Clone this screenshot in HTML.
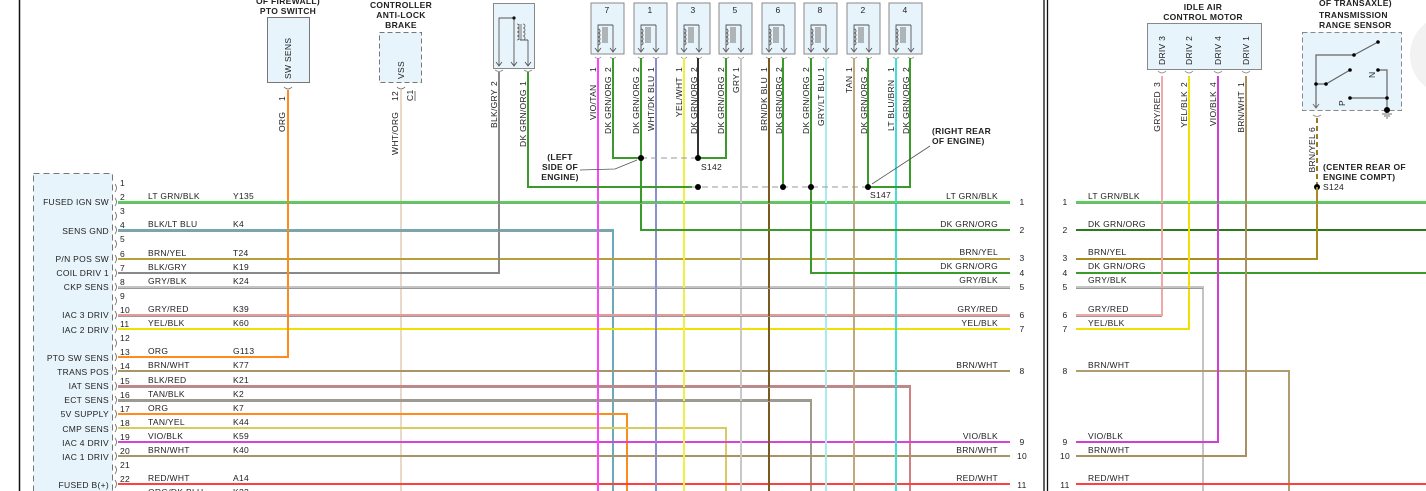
<!DOCTYPE html>
<html><head><meta charset="utf-8"><style>
html,body{margin:0;padding:0;background:#fff;}
svg{display:block;}
text{font-family:"Liberation Sans",sans-serif;font-size:8.5px;fill:#222;letter-spacing:0.3px;}
.w{fill:none;stroke-width:2;}
.s{fill:none;stroke-width:0.9;}
</style></head><body>
<svg width="1426" height="491" viewBox="0 0 1426 491" xmlns="http://www.w3.org/2000/svg">
<defs>
<g id="cn">
<rect x="0" y="0" width="33" height="51" fill="#e8f4fb" stroke="#888" stroke-width="1"/>
<path d="M7,48 V22 H17 M22,22 V48 M17,22 H22" fill="none" stroke="#555" stroke-width="0.9"/>
<path d="M7,26 a2,2 0 0 1 0,4 a2,2 0 0 1 0,4 a2,2 0 0 1 0,4 a2,2 0 0 1 0,4" fill="none" stroke="#555" stroke-width="0.9"/>
<path d="M12,24 V40 M14,24 V40 M16,24 V40" stroke="#555" stroke-width="0.8"/>
<path d="M4,45 L7,49 L10,45 M19,45 L22,49 L25,45" fill="none" stroke="#555" stroke-width="0.9"/>
<path d="M4,54 Q7,57 10,54 M19,54 Q22,57 25,54" fill="none" stroke="#888" stroke-width="0.8"/>
</g>
</defs>

<line x1="19.5" y1="0" x2="19.5" y2="491" stroke="#111" stroke-width="1.5"/>
<line x1="1044" y1="0" x2="1044" y2="491" stroke="#111" stroke-width="1.3"/>
<line x1="1047.5" y1="0" x2="1047.5" y2="491" stroke="#111" stroke-width="1.3"/>
<circle cx="1450" cy="55" r="40" fill="#f2f2f2"/>

<rect x="33.5" y="173.5" width="79" height="330" fill="#e8f4fb" stroke="#777" stroke-dasharray="6,4"/>
<g text-anchor="end">
<text x="109" y="205">FUSED IGN SW</text>
<text x="109" y="234">SENS GND</text>
<text x="109" y="262">P/N POS SW</text>
<text x="109" y="276">COIL DRIV 1</text>
<text x="109" y="290">CKP SENS</text>
<text x="109" y="318">IAC 3 DRIV</text>
<text x="109" y="333">IAC 2 DRIV</text>
<text x="109" y="361">PTO SW SENS</text>
<text x="109" y="375">TRANS POS</text>
<text x="109" y="389">IAT SENS</text>
<text x="109" y="403">ECT SENS</text>
<text x="109" y="417">5V SUPPLY</text>
<text x="109" y="432">CMP SENS</text>
<text x="109" y="446">IAC 4 DRIV</text>
<text x="109" y="460">IAC 1 DRIV</text>
<text x="109" y="488">FUSED B(+)</text>
</g>
<g fill="none" stroke="#666" stroke-width="0.8">
<path d="M115,184 q3,4 0,8 M115,198 q3,4 0,8 M115,212 q3,4 0,8 M115,226 q3,4 0,8 M115,240 q3,4 0,8 M115,255 q3,4 0,8 M115,269 q3,4 0,8 M115,283 q3,4 0,8 M115,297 q3,4 0,8 M115,311 q3,4 0,8 M115,325 q3,4 0,8 M115,339 q3,4 0,8 M115,353 q3,4 0,8 M115,367 q3,4 0,8 M115,382 q3,4 0,8 M115,396 q3,4 0,8 M115,410 q3,4 0,8 M115,424 q3,4 0,8 M115,438 q3,4 0,8 M115,452 q3,4 0,8 M115,466 q3,4 0,8 M115,480 q3,4 0,8"/>
</g>
<g font-size="8">
<text x="120" y="186">1</text><text x="120" y="200">2</text><text x="120" y="214">3</text><text x="120" y="228">4</text><text x="120" y="242">5</text><text x="120" y="257">6</text><text x="120" y="271">7</text><text x="120" y="285">8</text><text x="120" y="299">9</text><text x="120" y="313">10</text><text x="120" y="327">11</text><text x="120" y="341">12</text><text x="120" y="355">13</text><text x="120" y="369">14</text><text x="120" y="384">15</text><text x="120" y="398">16</text><text x="120" y="412">17</text><text x="120" y="426">18</text><text x="120" y="440">19</text><text x="120" y="454">20</text><text x="120" y="468">21</text><text x="120" y="482">22</text>
</g>
<g>
<text x="148" y="199">LT GRN/BLK</text><text x="233" y="199">Y135</text>
<text x="148" y="227">BLK/LT BLU</text><text x="233" y="227">K4</text>
<text x="148" y="256">BRN/YEL</text><text x="233" y="256">T24</text>
<text x="148" y="270">BLK/GRY</text><text x="233" y="270">K19</text>
<text x="148" y="284">GRY/BLK</text><text x="233" y="284">K24</text>
<text x="148" y="312">GRY/RED</text><text x="233" y="312">K39</text>
<text x="148" y="326">YEL/BLK</text><text x="233" y="326">K60</text>
<text x="148" y="354">ORG</text><text x="233" y="354">G113</text>
<text x="148" y="368">BRN/WHT</text><text x="233" y="368">K77</text>
<text x="148" y="383">BLK/RED</text><text x="233" y="383">K21</text>
<text x="148" y="397">TAN/BLK</text><text x="233" y="397">K2</text>
<text x="148" y="411">ORG</text><text x="233" y="411">K7</text>
<text x="148" y="425">TAN/YEL</text><text x="233" y="425">K44</text>
<text x="148" y="439">VIO/BLK</text><text x="233" y="439">K59</text>
<text x="148" y="453">BRN/WHT</text><text x="233" y="453">K40</text>
<text x="148" y="481">RED/WHT</text><text x="233" y="481">A14</text>
<text x="148" y="495">ORG/DK BLU</text><text x="233" y="495">K22</text>
</g>

<text x="288" y="4" text-anchor="middle" font-weight="bold">OF FIREWALL)</text>
<text x="288" y="14" text-anchor="middle" font-weight="bold">PTO SWITCH</text>
<rect x="267.5" y="17.5" width="42" height="65" fill="#e8f4fb" stroke="#777"/>
<text transform="translate(291,79) rotate(-90)">SW SENS</text>
<path d="M284,87 Q288,91 292,87" fill="none" stroke="#666" stroke-width="0.8"/>
<text transform="translate(285,96) rotate(-90)" text-anchor="end">1</text>
<text transform="translate(285,132) rotate(-90)">ORG</text>

<text x="401" y="8" text-anchor="middle" font-weight="bold">CONTROLLER</text>
<text x="401" y="18" text-anchor="middle" font-weight="bold">ANTI-LOCK</text>
<text x="401" y="28" text-anchor="middle" font-weight="bold">BRAKE</text>
<rect x="379.5" y="32.5" width="42" height="50" fill="#e8f4fb" stroke="#777" stroke-dasharray="5,3"/>
<text transform="translate(404,79) rotate(-90)">VSS</text>
<path d="M397,87 Q401,91 405,87" fill="none" stroke="#666" stroke-width="0.8"/>
<text transform="translate(398,101) rotate(-90)">12</text>
<text transform="translate(413,101) rotate(-90)">C1</text>
<line x1="415" y1="91" x2="415" y2="101" stroke="#333" stroke-width="0.7"/>
<text transform="translate(398,155) rotate(-90)">WHT/ORG</text>

<rect x="493.5" y="3.5" width="41" height="65" fill="#e8f4fb" stroke="#888"/>
<path d="M499,66 V18 H514 M514,18 V66 M528,66 V40 M520,40 H528" fill="none" stroke="#555" stroke-width="0.9"/>
<circle cx="514" cy="18" r="1.6" fill="#111"/>
<path d="M517,24 a2,2 0 0 1 0,4 a2,2 0 0 1 0,4 a2,2 0 0 1 0,4 a2,2 0 0 1 0,4 M523,24 a2,2 0 0 1 0,4 a2,2 0 0 1 0,4 a2,2 0 0 1 0,4 a2,2 0 0 1 0,4 M519,24 V40 M521,24 V40" fill="none" stroke="#555" stroke-width="0.8"/>
<path d="M496,62 L499,66 L502,62 M511,62 L514,66 L517,62 M525,62 L528,66 L531,62" fill="none" stroke="#555" stroke-width="0.9"/>
<path d="M495,70 Q499,73 503,70 M524,70 Q528,73 532,70" fill="none" stroke="#888" stroke-width="0.8"/>
<text transform="translate(497,81) rotate(-90)" text-anchor="end">2</text>
<text transform="translate(497,128) rotate(-90)">BLK/GRY</text>
<text transform="translate(526,81) rotate(-90)" text-anchor="end">1</text>
<text transform="translate(526,147) rotate(-90)">DK GRN/ORG</text>

<use href="#cn" x="591" y="3"/><text x="607" y="13" text-anchor="middle">7</text>
<use href="#cn" x="634" y="3"/><text x="650" y="13" text-anchor="middle">1</text>
<use href="#cn" x="677" y="3"/><text x="693" y="13" text-anchor="middle">3</text>
<use href="#cn" x="719" y="3"/><text x="735" y="13" text-anchor="middle">5</text>
<use href="#cn" x="762" y="3"/><text x="778" y="13" text-anchor="middle">6</text>
<use href="#cn" x="804" y="3"/><text x="820" y="13" text-anchor="middle">8</text>
<use href="#cn" x="847" y="3"/><text x="863" y="13" text-anchor="middle">2</text>
<use href="#cn" x="889" y="3"/><text x="905" y="13" text-anchor="middle">4</text>
<g>
<text transform="translate(596,67) rotate(-90)" text-anchor="end">1</text><text transform="translate(596,120) rotate(-90)">VIO/TAN</text>
<text transform="translate(611,67) rotate(-90)" text-anchor="end">2</text><text transform="translate(611,134) rotate(-90)">DK GRN/ORG</text>
<text transform="translate(639,67) rotate(-90)" text-anchor="end">2</text><text transform="translate(639,134) rotate(-90)">DK GRN/ORG</text>
<text transform="translate(654,67) rotate(-90)" text-anchor="end">1</text><text transform="translate(654,131) rotate(-90)">WHT/DK BLU</text>
<text transform="translate(682,67) rotate(-90)" text-anchor="end">1</text><text transform="translate(682,117) rotate(-90)">YEL/WHT</text>
<text transform="translate(697,67) rotate(-90)" text-anchor="end">2</text><text transform="translate(697,134) rotate(-90)">DK GRN/ORG</text>
<text transform="translate(724,67) rotate(-90)" text-anchor="end">2</text><text transform="translate(724,134) rotate(-90)">DK GRN/ORG</text>
<text transform="translate(739,67) rotate(-90)" text-anchor="end">1</text><text transform="translate(739,93) rotate(-90)">GRY</text>
<text transform="translate(767,67) rotate(-90)" text-anchor="end">1</text><text transform="translate(767,131) rotate(-90)">BRN/DK BLU</text>
<text transform="translate(782,67) rotate(-90)" text-anchor="end">2</text><text transform="translate(782,134) rotate(-90)">DK GRN/ORG</text>
<text transform="translate(809,67) rotate(-90)" text-anchor="end">2</text><text transform="translate(809,134) rotate(-90)">DK GRN/ORG</text>
<text transform="translate(824,67) rotate(-90)" text-anchor="end">1</text><text transform="translate(824,126) rotate(-90)">GRY/LT BLU</text>
<text transform="translate(852,67) rotate(-90)" text-anchor="end">1</text><text transform="translate(852,93) rotate(-90)">TAN</text>
<text transform="translate(867,67) rotate(-90)" text-anchor="end">2</text><text transform="translate(867,134) rotate(-90)">DK GRN/ORG</text>
<text transform="translate(894,67) rotate(-90)" text-anchor="end">1</text><text transform="translate(894,131) rotate(-90)">LT BLU/BRN</text>
<text transform="translate(909,67) rotate(-90)" text-anchor="end">2</text><text transform="translate(909,134) rotate(-90)">DK GRN/ORG</text>
</g>

<g class="w">
<path d="M401,90 V491" stroke="#ead8c8"/>
<path d="M118,202 H1010" stroke="#44dd44"/>
<path d="M118,230 H613 V491" stroke="#6aaabb"/>
<path d="M118,259 H1010" stroke="#b8a038"/>
<path d="M118,273 H499 V72" stroke="#888"/>
<path d="M118,287 H1010" stroke="#c4c4c4"/>
<path d="M118,315 H1010" stroke="#e89a9a"/>
<path d="M118,329 H1010" stroke="#eee000"/>
<path d="M118,357 H288 V90" stroke="#ff8c1a"/>
<path d="M118,371 H1010" stroke="#a89468"/>
<path d="M118,386 H910 V491" stroke="#d08080"/>
<path d="M118,400 H811 V491" stroke="#a09a8c"/>
<path d="M118,414 H627 V491" stroke="#ff8c1a"/>
<path d="M118,428 H726 V491" stroke="#d8cc60"/>
<path d="M118,442 H1010" stroke="#d844d8"/>
<path d="M118,456 H1010" stroke="#a89468"/>
<path d="M118,484 H1010" stroke="#ff4040"/>
<path d="M598,58 V491" stroke="#ff44ff"/>
<path d="M656,58 V491" stroke="#8890d0"/>
<path d="M684,58 V491" stroke="#f0f040"/>
<path d="M741,58 V491" stroke="#c8c8c8"/>
<path d="M769,58 V491" stroke="#7a5a20"/>
<path d="M826,58 V491" stroke="#a8ecf0"/>
<path d="M854,58 V491" stroke="#c0a880"/>
<path d="M896,58 V491" stroke="#40e0d8"/>
<path d="M528,72 V187 H692" stroke="#3a9a2a"/>
<path d="M868,58 V187 H910 V58" stroke="#3a9a2a"/>
<path d="M811,58 V273 H1010" stroke="#3a9a2a"/>
<path d="M783,58 V187" stroke="#3a9a2a"/>
<path d="M641,58 V230 H1010" stroke="#3a9a2a"/>
<path d="M613,58 V158 H641" stroke="#3a9a2a"/>
<path d="M698,58 V158" stroke="#333"/>
<path d="M726,58 V158 H698" stroke="#3a9a2a"/>
</g>
<g class="s" stroke="#999">
<path d="M118,203.5 H1010 M118,231.5 H613 M118,288.5 H1010 M118,316.5 H1010 M118,387.5 H910 M118,401.5 H811"/>
</g>
<path d="M641,158 H698 M692,187 H868" stroke="#999" stroke-width="1" stroke-dasharray="6,4" fill="none"/>
<g fill="#000">
<circle cx="641" cy="158" r="3"/><circle cx="698" cy="158" r="3"/>
<circle cx="698" cy="187" r="3"/><circle cx="783" cy="187" r="3"/><circle cx="811" cy="187" r="3"/><circle cx="868" cy="187" r="3"/>
</g>
<text x="701" y="170">S142</text>
<text x="870" y="198">S147</text>
<g text-anchor="middle" font-weight="bold">
<text x="560" y="160">(LEFT</text><text x="560" y="170">SIDE OF</text><text x="560" y="180">ENGINE)</text>
</g>
<path d="M580,170 L615,169 L637,160" fill="none" stroke="#555" stroke-width="0.8"/>
<text x="932" y="134" font-weight="bold">(RIGHT REAR</text>
<text x="932" y="144" font-weight="bold">OF ENGINE)</text>
<path d="M930,146 L872,184" fill="none" stroke="#555" stroke-width="0.8"/>

<g text-anchor="end">
<text x="998" y="199">LT GRN/BLK</text>
<text x="998" y="227">DK GRN/ORG</text>
<text x="998" y="255">BRN/YEL</text>
<text x="998" y="269">DK GRN/ORG</text>
<text x="998" y="283">GRY/BLK</text>
<text x="998" y="312">GRY/RED</text>
<text x="998" y="326">YEL/BLK</text>
<text x="998" y="368">BRN/WHT</text>
<text x="998" y="439">VIO/BLK</text>
<text x="998" y="453">BRN/WHT</text>
<text x="998" y="481">RED/WHT</text>
</g>
<g text-anchor="middle" font-size="8">
<text x="1022" y="205">1</text><text x="1022" y="233">2</text><text x="1022" y="261">3</text><text x="1022" y="276">4</text><text x="1022" y="290">5</text><text x="1022" y="318">6</text><text x="1022" y="332">7</text><text x="1022" y="374">8</text><text x="1022" y="445">9</text><text x="1022" y="459">10</text><text x="1022" y="488">11</text>
</g>

<g text-anchor="middle" font-size="8">
<text x="1065" y="205">1</text><text x="1065" y="233">2</text><text x="1065" y="261">3</text><text x="1065" y="276">4</text><text x="1065" y="290">5</text><text x="1065" y="318">6</text><text x="1065" y="332">7</text><text x="1065" y="374">8</text><text x="1065" y="445">9</text><text x="1065" y="459">10</text><text x="1065" y="488">11</text>
</g>
<g>
<text x="1088" y="199">LT GRN/BLK</text>
<text x="1088" y="227">DK GRN/ORG</text>
<text x="1088" y="255">BRN/YEL</text>
<text x="1088" y="269">DK GRN/ORG</text>
<text x="1088" y="283">GRY/BLK</text>
<text x="1088" y="312">GRY/RED</text>
<text x="1088" y="326">YEL/BLK</text>
<text x="1088" y="368">BRN/WHT</text>
<text x="1088" y="439">VIO/BLK</text>
<text x="1088" y="453">BRN/WHT</text>
<text x="1088" y="481">RED/WHT</text>
</g>
<text x="1203" y="10" text-anchor="middle" font-weight="bold">IDLE AIR</text>
<text x="1203" y="20" text-anchor="middle" font-weight="bold">CONTROL MOTOR</text>
<rect x="1147.5" y="23.5" width="114" height="46" fill="#e8f4fb" stroke="#888"/>
<text transform="translate(1165,65) rotate(-90)">DRIV 3</text>
<text transform="translate(1192,65) rotate(-90)">DRIV 2</text>
<text transform="translate(1221,65) rotate(-90)">DRIV 4</text>
<text transform="translate(1249,65) rotate(-90)">DRIV 1</text>
<path d="M1158,71 Q1162,75 1166,71 M1185,71 Q1189,75 1193,71 M1214,71 Q1218,75 1222,71 M1242,71 Q1246,75 1250,71" fill="none" stroke="#888" stroke-width="0.8"/>
<text transform="translate(1160,82) rotate(-90)" text-anchor="end">3</text><text transform="translate(1160,91) rotate(-90)" text-anchor="end">GRY/RED</text>
<text transform="translate(1187,82) rotate(-90)" text-anchor="end">2</text><text transform="translate(1187,91) rotate(-90)" text-anchor="end">YEL/BLK</text>
<text transform="translate(1216,82) rotate(-90)" text-anchor="end">4</text><text transform="translate(1216,91) rotate(-90)" text-anchor="end">VIO/BLK</text>
<text transform="translate(1244,82) rotate(-90)" text-anchor="end">1</text><text transform="translate(1244,91) rotate(-90)" text-anchor="end">BRN/WHT</text>

<text x="1319" y="6" font-weight="bold">OF TRANSAXLE)</text>
<text x="1319" y="18" font-weight="bold">TRANSMISSION</text>
<text x="1319" y="28" font-weight="bold">RANGE SENSOR</text>
<rect x="1302.5" y="32.5" width="99" height="78" fill="#e8f4fb" stroke="#888" stroke-dasharray="5,3"/>
<g fill="none" stroke="#666" stroke-width="1.2">
<path d="M1316,108 V55 H1354 L1378,42"/>
<path d="M1316,84 H1326 L1350,70"/>
<path d="M1378,70 H1387 V98 H1350"/>
<path d="M1387,98 V110"/>
<path d="M1313,104 L1316,108 L1319,104" stroke-width="0.9"/>
</g>
<g fill="#000">
<circle cx="1354" cy="55" r="1.8"/><circle cx="1378" cy="42" r="1.8"/><circle cx="1316" cy="84" r="1.8"/><circle cx="1326" cy="84" r="1.8"/><circle cx="1350" cy="70" r="1.8"/><circle cx="1378" cy="70" r="1.8"/><circle cx="1387" cy="98" r="1.8"/><circle cx="1350" cy="98" r="1.8"/><circle cx="1387" cy="110" r="3"/>
</g>
<path d="M1382,114 H1392 M1384,116 H1390 M1386,118 H1388" stroke="#444" stroke-width="0.8"/>
<text transform="translate(1375,78) rotate(-90)">N</text>
<text transform="translate(1345,106) rotate(-90)">P</text>
<path d="M1313,115 Q1317,118 1321,115" fill="none" stroke="#888" stroke-width="0.8"/>
<text transform="translate(1315,127) rotate(-90)" text-anchor="end">6</text>
<text transform="translate(1315,134) rotate(-90)" text-anchor="end">BRN/YEL</text>
<path d="M1317,118 V184" stroke="#9a7a20" stroke-width="2" stroke-dasharray="5,3"/>
<circle cx="1317" cy="187" r="3" fill="#000"/>
<text x="1323" y="170" font-weight="bold">(CENTER REAR OF</text>
<text x="1323" y="180" font-weight="bold">ENGINE COMPT)</text>
<text x="1323" y="190">S124</text>

<g class="w">
<path d="M1076,202 H1426" stroke="#44dd44"/>
<path d="M1076,230 H1426" stroke="#2a7a1a"/>
<path d="M1076,259 H1317 V187" stroke="#a88c20"/>
<path d="M1076,273 H1426" stroke="#3a9a2a"/>
<path d="M1076,287 H1203 V491" stroke="#c4c4c4"/>
<path d="M1076,315 H1162 V76" stroke="#f0a8a8"/>
<path d="M1076,329 H1189 V76" stroke="#eee000"/>
<path d="M1076,371 H1289 V491" stroke="#b09c70"/>
<path d="M1076,442 H1218 V76" stroke="#d040d0"/>
<path d="M1076,456 H1246 V76" stroke="#a89060"/>
<path d="M1076,484 H1426" stroke="#ff4040"/>
</g>
<g class="s" stroke="#999">
<path d="M1076,203.5 H1426 M1076,288.5 H1203 M1076,316.5 H1162"/>
</g>
</svg>
</body></html>
